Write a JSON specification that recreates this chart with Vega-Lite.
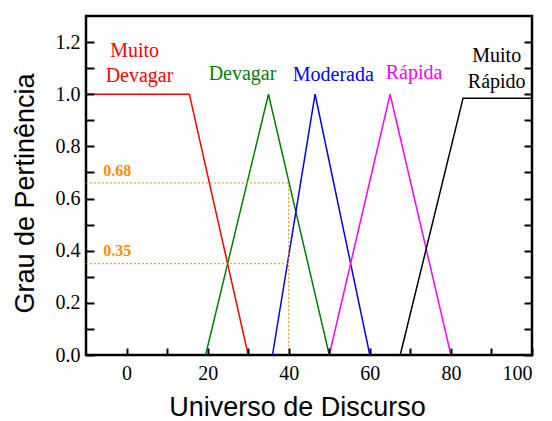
{
  "$schema": "https://vega.github.io/schema/vega-lite/v6.json",
  "width": 446,
  "height": 339,
  "autosize": "none",
  "padding": {"left": 86, "top": 16, "right": 20, "bottom": 66},
  "config": {
    "view": {"stroke": "black", "strokeWidth": 2.5},
    "font": "Liberation Serif"
  },
  "datasets": {
    "curves": [
      {"series": "Muito Devagar", "x": -10, "y": 1, "o": 1},
      {"series": "Muito Devagar", "x": 15.5, "y": 1, "o": 2},
      {"series": "Muito Devagar", "x": 30, "y": 0, "o": 3},
      {"series": "Devagar", "x": 19.5, "y": 0, "o": 1},
      {"series": "Devagar", "x": 35, "y": 1, "o": 2},
      {"series": "Devagar", "x": 50, "y": 0, "o": 3},
      {"series": "Moderada", "x": 36, "y": 0, "o": 1},
      {"series": "Moderada", "x": 46.5, "y": 1, "o": 2},
      {"series": "Moderada", "x": 60, "y": 0, "o": 3},
      {"series": "Rápida", "x": 50, "y": 0, "o": 1},
      {"series": "Rápida", "x": 65, "y": 1, "o": 2},
      {"series": "Rápida", "x": 80, "y": 0, "o": 3},
      {"series": "Muito Rápido", "x": 67.5, "y": 0, "o": 1},
      {"series": "Muito Rápido", "x": 83, "y": 0.985, "o": 2},
      {"series": "Muito Rápido", "x": 100, "y": 0.985, "o": 3}
    ],
    "guides": [
      {"x": -10, "x2": 40, "y": 0.66, "y2": 0.66},
      {"x": 40, "x2": 40, "y": 0, "y2": 0.66},
      {"x": -10, "x2": 40, "y": 0.35, "y2": 0.35}
    ],
    "names": [
      {"series": "Muito Devagar", "label": "Muito", "x": 2.0, "y": 1.141},
      {"series": "Muito Devagar", "label": "Devagar", "x": 3.2, "y": 1.045},
      {"series": "Devagar", "label": "Devagar", "x": 28.6, "y": 1.055},
      {"series": "Moderada", "label": "Moderada", "x": 51.0, "y": 1.051},
      {"series": "Rápida", "label": "Rápida", "x": 70.9, "y": 1.058},
      {"series": "Muito Rápido", "label": "Muito", "x": 91.3, "y": 1.122},
      {"series": "Muito Rápido", "label": "Rápido", "x": 91.3, "y": 1.025}
    ],
    "values": [
      {"label": "0.68", "x": -2.3, "y": 0.686},
      {"label": "0.35", "x": -2.3, "y": 0.378}
    ]
  },
  "layer": [
    {
      "data": {"name": "curves"},
      "mark": {"type": "line", "strokeWidth": 1.5},
      "encoding": {
        "x": {
          "field": "x", "type": "quantitative",
          "scale": {"domain": [-10, 100], "nice": false, "zero": false},
          "axis": {
            "values": [0, 10, 20, 30, 40, 50, 60, 70, 80, 90, 100],
            "labelExpr": "datum.value % 20 === 0 ? datum.label : ''",
            "domain": false, "grid": false, "ticks": true, "zindex": 2,
            "tickColor": "black", "tickWidth": 2,
            "tickSize": -7,
            "labelFont": "Liberation Serif", "labelFontSize": 20, "labelColor": "black",
            "labelPadding": 15,
            "title": "Universo de Discurso",
            "titleFont": "Liberation Sans", "titleFontSize": 27, "titleFontWeight": "normal",
            "titleColor": "black", "titleX": 211, "titleY": 60, "titleBaseline": "alphabetic"
          }
        },
        "y": {
          "field": "y", "type": "quantitative",
          "scale": {"domain": [0, 1.3], "nice": false},
          "axis": {
            "values": [0, 0.1, 0.2, 0.3, 0.4, 0.5, 0.6, 0.7, 0.8, 0.9, 1.0, 1.1, 1.2],
            "labelExpr": "round(datum.value * 10) % 2 === 0 ? format(datum.value, '.1f') : ''",
            "domain": false, "grid": false, "ticks": true, "zindex": 2,
            "tickColor": "black", "tickWidth": 2,
            "tickSize": -8,
            "labelFont": "Liberation Serif", "labelFontSize": 20, "labelColor": "black",
            "labelPadding": 14,
            "title": "Grau de Pertinência",
            "titleFont": "Liberation Sans", "titleFontSize": 27, "titleFontWeight": "normal",
            "titleColor": "black", "titleX": -53, "titleY": 177, "titleBaseline": "alphabetic",
            "titleAngle": -90
          }
        },
        "color": {
          "field": "series", "type": "nominal", "legend": null,
          "scale": {
            "domain": ["Muito Devagar", "Devagar", "Moderada", "Rápida", "Muito Rápido"],
            "range": ["#FF0000", "#008000", "#0000FF", "#FF00FF", "#000000"]
          }
        },
        "order": {"field": "o", "type": "quantitative"}
      }
    },
    {
      "data": {"name": "names"},
      "mark": {"type": "text", "font": "Liberation Serif", "fontSize": 20, "align": "center", "baseline": "alphabetic"},
      "encoding": {
        "x": {"field": "x", "type": "quantitative"},
        "y": {
          "field": "y", "type": "quantitative",
          "axis": {
            "orient": "right",
            "values": [0, 0.1, 0.2, 0.3, 0.4, 0.5, 0.6, 0.7, 0.8, 0.9, 1.0, 1.1, 1.2],
            "labels": false, "domain": false, "grid": false, "title": null, "ticks": true, "zindex": 2,
            "tickColor": "black", "tickWidth": 2,
            "tickSize": -8
          }
        },
        "text": {"field": "label"},
        "color": {"field": "series", "type": "nominal", "legend": null}
      }
    },
    {
      "data": {"name": "guides"},
      "mark": {"type": "rule", "color": "#FF8C00", "strokeWidth": 1, "strokeDash": [2, 2]},
      "encoding": {
        "x": {"field": "x", "type": "quantitative"},
        "x2": {"field": "x2"},
        "y": {"field": "y", "type": "quantitative", "axis": null},
        "y2": {"field": "y2"}
      }
    },
    {
      "data": {"name": "values"},
      "mark": {"type": "text", "color": "#FF8C00", "font": "Liberation Serif", "fontSize": 16, "fontWeight": "bold", "align": "center", "baseline": "alphabetic"},
      "encoding": {
        "x": {"field": "x", "type": "quantitative"},
        "y": {"field": "y", "type": "quantitative", "axis": null},
        "text": {"field": "label"}
      }
    }
  ],
  "resolve": {"axis": {"y": "independent"}}
}
